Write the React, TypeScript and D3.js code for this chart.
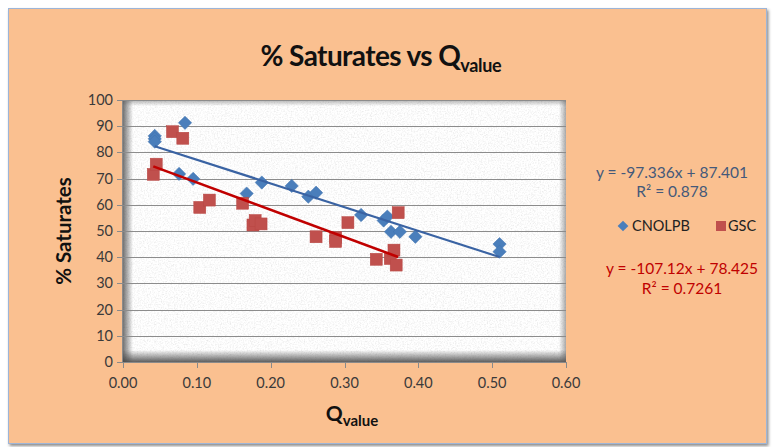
import React from 'react';
import * as d3 from 'd3';

// CNOLPB series (Q value, % saturates)
const cnolpbQ = [0.043, 0.043, 0.043, 0.084, 0.076, 0.095, 0.1675, 0.188, 0.2285, 0.251, 0.2615, 0.3225, 0.353, 0.358, 0.363, 0.375, 0.396, 0.51, 0.51];
const cnolpbSat = [86.3, 85.2, 84.1, 91.3, 71.8, 69.9, 64.3, 68.5, 67.2, 63.1, 64.6, 56.1, 54.0, 55.5, 49.7, 49.7, 47.8, 45.0, 42.1];

// GSC series
const gscQ = [0.041, 0.045, 0.067, 0.081, 0.104, 0.117, 0.162, 0.176, 0.179, 0.187, 0.2615, 0.288, 0.288, 0.3046, 0.343, 0.362, 0.367, 0.37, 0.3727];
const gscSat = [71.6, 75.5, 87.9, 85.4, 59.0, 61.8, 60.6, 52.3, 54.0, 52.7, 47.8, 47.5, 46.0, 53.2, 39.2, 39.5, 42.7, 37.0, 57.0];

const xTicks = [0, 0.1, 0.2, 0.3, 0.4, 0.5, 0.6];
const yTicks = [0, 10, 20, 30, 40, 50, 60, 70, 80, 90, 100];

const cnolpbEq = 'y = -97.336x + 87.401';
const cnolpbR2 = 'R² = 0.878';
const gscEq = 'y = -107.12x + 78.425';
const gscR2 = 'R² = 0.7261';

const W = 772;
const H = 447;
const plot = { left: 123, right: 566, top: 100, bottom: 362 };
const font = 'Lato, "Open Sans", sans-serif';

// least squares fit, drawn over the range of the data like excel does
function fit(xs: number[], ys: number[]) {
  const mx = d3.mean(xs)!;
  const my = d3.mean(ys)!;
  let num = 0;
  let den = 0;
  xs.forEach((x, i) => {
    num += (x - mx) * (ys[i] - my);
    den += (x - mx) * (x - mx);
  });
  const slope = num / den;
  const icpt = my - slope * mx;
  const [x0, x1] = d3.extent(xs) as [number, number];
  return [
    [x0, icpt + slope * x0],
    [x1, icpt + slope * x1],
  ];
}

export default function App() {
  const x = d3.scaleLinear().domain([0, 0.6]).range([plot.left, plot.right]);
  const y = d3.scaleLinear().domain([0, 100]).range([plot.bottom, plot.top]);
  const line = d3
    .line<number[]>()
    .x((d) => x(d[0]))
    .y((d) => y(d[1]));

  const blueFit = fit(cnolpbQ, cnolpbSat);
  const redFit = fit(gscQ, gscSat);
  const pw = plot.right - plot.left;
  const ph = plot.bottom - plot.top;

  return (
    <svg
      width={W}
      height={H}
      style={{ position: 'absolute', left: 0, top: 0, display: 'block' }}
    >
      <defs>
        <filter id="granite" x="0" y="0" width="100%" height="100%">
          <feTurbulence type="fractalNoise" baseFrequency="0.7" numOctaves="3" seed="4" result="n" />
          <feColorMatrix
            in="n"
            type="matrix"
            values="0.4 0 0 0 0.77  0.4 0 0 0 0.77  0.4 0 0 0 0.77  0 0 0 0 1"
          />
        </filter>
        <filter id="frameShadow" x="-5%" y="-5%" width="110%" height="110%">
          <feDropShadow dx="1.5" dy="2" stdDeviation="1.5" floodColor="#000" floodOpacity="0.45" />
        </filter>
        <linearGradient id="shB" x1="0" y1="1" x2="0" y2="0">
          <stop offset="0" stopColor="#444" stopOpacity="0.85" />
          <stop offset="1" stopColor="#444" stopOpacity="0" />
        </linearGradient>
        <linearGradient id="shL" x1="0" y1="0" x2="1" y2="0">
          <stop offset="0" stopColor="#444" stopOpacity="0.75" />
          <stop offset="1" stopColor="#444" stopOpacity="0" />
        </linearGradient>
        <linearGradient id="shT" x1="0" y1="0" x2="0" y2="1">
          <stop offset="0" stopColor="#555" stopOpacity="0.45" />
          <stop offset="1" stopColor="#555" stopOpacity="0" />
        </linearGradient>
        <linearGradient id="shR" x1="1" y1="0" x2="0" y2="0">
          <stop offset="0" stopColor="#555" stopOpacity="0.5" />
          <stop offset="1" stopColor="#555" stopOpacity="0" />
        </linearGradient>
        <clipPath id="plotClip">
          <rect x={plot.left} y={plot.top} width={pw} height={ph} />
        </clipPath>
      </defs>

      <rect width={W} height={H} fill="#fff" />
      <rect
        x={8.5}
        y={8.5}
        width={758}
        height={435}
        fill="#fac090"
        stroke="#9db5d8"
        strokeWidth={1}
        filter="url(#frameShadow)"
      />

      {/* plot area texture */}
      <rect x={plot.left} y={plot.top} width={pw} height={ph} filter="url(#granite)" />
      <rect x={plot.left} y={plot.bottom - 12} width={pw} height={12} fill="url(#shB)" />
      <rect x={plot.left} y={plot.top} width={10} height={ph} fill="url(#shL)" />
      <rect x={plot.left} y={plot.top} width={pw} height={6} fill="url(#shT)" />
      <rect x={plot.right - 7} y={plot.top} width={7} height={ph} fill="url(#shR)" />

      {/* gridlines */}
      {yTicks.slice(1).map((t) => (
        <line
          key={t}
          x1={plot.left}
          x2={plot.right}
          y1={Math.round(y(t)) + 0.5}
          y2={Math.round(y(t)) + 0.5}
          stroke="#8c8c8c"
          strokeWidth={1}
        />
      ))}

      {/* axes */}
      <line x1={plot.left - 0.5} x2={plot.left - 0.5} y1={plot.top} y2={plot.bottom} stroke="#8a8a8a" />
      <line x1={plot.left} x2={plot.right} y1={plot.bottom + 0.5} y2={plot.bottom + 0.5} stroke="#8a8a8a" />
      {yTicks.map((t) => (
        <g key={t}>
          <line
            x1={plot.left - 6}
            x2={plot.left}
            y1={Math.round(y(t)) + 0.5}
            y2={Math.round(y(t)) + 0.5}
            stroke="#8a8a8a"
          />
          <text
            x={plot.left - 10}
            y={y(t) + 5}
            textAnchor="end"
            fontFamily={font}
            fontSize={14.5}
            fill="#3a3a3a"
          >
            {t}
          </text>
        </g>
      ))}
      {xTicks.map((t) => (
        <g key={t}>
          <line
            x1={Math.round(x(t)) + 0.5}
            x2={Math.round(x(t)) + 0.5}
            y1={plot.bottom}
            y2={plot.bottom + 6}
            stroke="#8a8a8a"
          />
          <text
            x={x(t)}
            y={plot.bottom + 26}
            textAnchor="middle"
            fontFamily={font}
            fontSize={14.5}
            fill="#3a3a3a"
          >
            {t.toFixed(2)}
          </text>
        </g>
      ))}

      {/* markers */}
      <g clipPath="url(#plotClip)">
        {cnolpbQ.map((q, i) => (
          <rect
            key={'b' + i}
            x={-4.7}
            y={-4.7}
            width={9.4}
            height={9.4}
            fill="#4a7ebb"
            stroke="#3f72b0"
            strokeWidth={0.5}
            transform={`translate(${x(q)},${y(cnolpbSat[i])}) rotate(45)`}
          />
        ))}
        {gscQ.map((q, i) => (
          <rect
            key={'r' + i}
            x={x(q) - 6}
            y={y(gscSat[i]) - 6}
            width={12}
            height={12}
            fill="#c0504d"
            stroke="#b84643"
            strokeWidth={0.5}
          />
        ))}
        <path d={line(blueFit) || ''} fill="none" stroke="#3a63a3" strokeWidth={2.2} />
        <path d={line(redFit) || ''} fill="none" stroke="#c00000" strokeWidth={2.6} />
      </g>

      {/* title */}
      <text x={381} y={66} textAnchor="middle" fontFamily={font} fontWeight={700} fontSize={28} letterSpacing={-0.6} fill="#111">
        % Saturates vs Q
        <tspan fontSize={18} dy={6} letterSpacing={-0.3}>value</tspan>
      </text>

      {/* axis titles */}
      <text
        transform={`translate(71,${(plot.top + plot.bottom) / 2}) rotate(-90)`}
        textAnchor="middle"
        fontFamily={font}
        fontWeight={700}
        fontSize={20.5}
        fill="#111"
      >
        % Saturates
      </text>
      <text x={352} y={421} textAnchor="middle" fontFamily={font} fontWeight={700} fontSize={21} fill="#111">
        Q<tspan fontSize={15} dy={5}>value</tspan>
      </text>

      {/* trendline labels */}
      <g fontFamily={font} fontSize={15.5}>
        <text x={672} y={178} textAnchor="middle" fill="#44597a">{cnolpbEq}</text>
        <text x={672} y={197} textAnchor="middle" fill="#44597a">{cnolpbR2}</text>
        <text x={682} y={274} textAnchor="middle" fill="#c00000">{gscEq}</text>
        <text x={682} y={294} textAnchor="middle" fill="#c00000">{gscR2}</text>
      </g>

      {/* legend */}
      <g fontFamily={font} fontSize={14.5} fill="#222">
        <rect x={-3.8} y={-3.8} width={7.6} height={7.6} fill="#4a7ebb" transform="translate(623,226) rotate(45)" />
        <text x={632} y={231}>CNOLPB</text>
        <rect x={716} y={221} width={10} height={10} fill="#c0504d" />
        <text x={728} y={231}>GSC</text>
      </g>
    </svg>
  );
}
